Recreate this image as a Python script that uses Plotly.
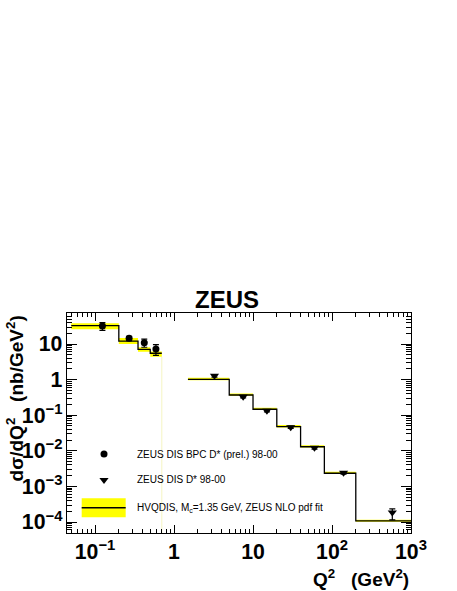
import plotly.graph_objects as go
import numpy as np

# HVQDIS prediction, BPC region (bin edges and cross sections in nb/GeV^2)
bpc_edges = [0.05, 0.2, 0.35, 0.5, 0.7]
bpc_theory = [32.7, 12.1, 7.1, 5.5]
bpc_theory_up = [38.1, 14.7, 8.1, 6.2]
bpc_theory_lo = [25.9, 10.0, 6.1, 4.4]

# HVQDIS prediction, DIS region
dis_edges = [1.5, 5, 10, 20, 40, 80, 200, 1000]
dis_theory = [1.02, 0.37, 0.147, 0.048, 0.013, 0.00234, 1.07e-4]
dis_theory_up = [1.13, 0.41, 0.162, 0.053, 0.0143, 0.00258, 1.16e-4]
dis_theory_lo = [0.96, 0.35, 0.139, 0.045, 0.0123, 0.00222, 1.01e-4]

# ZEUS DIS BPC D* (prel.) 98-00
bpc_q2 = [0.124, 0.27, 0.42, 0.59]
bpc_xsec = [32.0, 14.4, 10.9, 7.2]
bpc_err = [8.0, 2.0, 2.8, 2.4]

# ZEUS DIS D* 98-00
dis_q2 = [3.25, 7.5, 15, 30, 60, 140, 580]
dis_xsec = [1.28, 0.33, 0.134, 0.046, 0.0121, 0.0024, 1.85e-4]
dis_err_up = [0.10, 0.025, 0.010, 0.0035, 0.0009, 0.0002, 0.5e-4]
dis_err_dn = [0.10, 0.025, 0.010, 0.0035, 0.0009, 0.0002, 0.7e-4]

x_range = [-1.355, 3.0]
y_range = [-4.309, 1.871]

font_main = 'Liberation Sans'


def step_xy(edges, vals):
    """Staircase path through the bin contents."""
    xs, ys = [], []
    for i, v in enumerate(vals):
        xs += [edges[i], edges[i + 1]]
        ys += [v, v]
    return xs, ys


def band_xy(edges, up, lo):
    xu, yu = step_xy(edges, up)
    xl, yl = step_xy(edges, lo)
    return xu + xl[::-1], yu + yl[::-1]


fig = go.Figure()

for edges, up, lo in [(bpc_edges, bpc_theory_up, bpc_theory_lo),
                      (dis_edges, dis_theory_up, dis_theory_lo)]:
    bx, by = band_xy(edges, up, lo)
    fig.add_trace(go.Scatter(
        x=bx, y=by, mode='lines', fill='toself',
        fillcolor='#ffff00', line=dict(width=0),
        hoverinfo='skip', showlegend=False
    ))

# faint edge of the BPC band running down to the axis
fig.add_trace(go.Scatter(
    x=[bpc_edges[-1], bpc_edges[-1]],
    y=[bpc_theory_lo[-1], 10 ** y_range[0]],
    mode='lines', line=dict(color='rgba(230,230,120,0.45)', width=1),
    hoverinfo='skip', showlegend=False
))

for edges, vals in [(bpc_edges, bpc_theory), (dis_edges, dis_theory)]:
    sx, sy = step_xy(edges, vals)
    fig.add_trace(go.Scatter(
        x=sx, y=sy, mode='lines',
        line=dict(color='black', width=1.3),
        showlegend=False
    ))

fig.add_trace(go.Scatter(
    x=bpc_q2, y=bpc_xsec, mode='markers',
    marker=dict(symbol='circle', size=7, color='black'),
    error_y=dict(type='data', array=bpc_err, color='black',
                 thickness=1.2, width=3),
    showlegend=False
))

fig.add_trace(go.Scatter(
    x=dis_q2, y=dis_xsec, mode='markers',
    marker=dict(symbol='triangle-down', size=8, color='black'),
    error_y=dict(type='data', array=dis_err_up, arrayminus=dis_err_dn,
                 color='black', thickness=1.2, width=3),
    showlegend=False
))

# hand-made legend on an overlay axis running 0..1
fig.add_trace(go.Scatter(
    x=[0.1076], y=[0.359], mode='markers',
    marker=dict(symbol='circle', size=7, color='black'),
    xaxis='x2', yaxis='y2', showlegend=False, hoverinfo='skip'
))
fig.add_trace(go.Scatter(
    x=[0.1076], y=[0.241], mode='markers',
    marker=dict(symbol='triangle-down', size=8, color='black'),
    xaxis='x2', yaxis='y2', showlegend=False, hoverinfo='skip'
))

fig.add_shape(type='rect', xref='paper', yref='paper',
              x0=0.0427, x1=0.1706, y0=0.0718, y1=0.158,
              fillcolor='#ffff00', line=dict(width=0), layer='above')
fig.add_shape(type='line', xref='paper', yref='paper',
              x0=0.0427, x1=0.1706, y0=0.115, y1=0.115,
              line=dict(color='black', width=1.5), layer='above')

legend_texts = [
    ('ZEUS DIS BPC D* (prel.) 98-00', 0.359),
    ('ZEUS DIS D* 98-00', 0.241),
    ('HVQDIS, M<sub>c</sub>=1.35 GeV, ZEUS NLO pdf fit', 0.115),
]
for txt, yy in legend_texts:
    fig.add_annotation(text=txt, x=0.198, y=yy, xref='paper', yref='paper',
                       xanchor='left', yanchor='middle', showarrow=False,
                       font=dict(family=font_main, size=10, color='black'))

fig.add_annotation(text='ZEUS', x=0.4637, y=0.99, xref='paper', yref='paper',
                   xanchor='center', yanchor='bottom', showarrow=False,
                   font=dict(family=font_main, size=24, color='black',
                             weight='bold'))

fig.add_annotation(text='dσ/dQ<sup>2</sup>\u00a0\u00a0\u00a0(nb/GeV<sup>2</sup>)',
                   x=-0.15, y=1.0, xref='paper', yref='paper',
                   xanchor='center', yanchor='top', textangle=-90,
                   showarrow=False,
                   font=dict(family=font_main, size=19, color='black',
                             weight='bold'))

fig.add_annotation(text='Q<sup>2</sup>\u00a0\u00a0\u00a0(GeV<sup>2</sup>)',
                   x=1.0, y=-0.2045, xref='paper', yref='paper',
                   xanchor='right', yanchor='middle', showarrow=False,
                   font=dict(family=font_main, size=19, color='black',
                             weight='bold'))

axis_common = dict(
    type='log', showgrid=False, zeroline=False,
    showline=True, linecolor='black', linewidth=1.3, mirror='ticks',
    ticks='inside', tickcolor='black', tickwidth=1,
    dtick=1, exponentformat='power',
    tickfont=dict(family=font_main, size=17, color='black', weight='bold'),
)

fig.update_layout(
    width=457, height=591,
    margin=dict(l=67, r=46, t=313, b=58),
    paper_bgcolor='white', plot_bgcolor='white',
    showlegend=False,
    xaxis=dict(axis_common, range=x_range, ticklen=8,
               minor=dict(ticks='inside', ticklen=4, dtick='D1',
                          tickcolor='black', tickwidth=1)),
    yaxis=dict(axis_common, range=y_range, ticklen=10,
               minor=dict(ticks='inside', ticklen=5, dtick='D1',
                          tickcolor='black', tickwidth=1)),
    xaxis2=dict(overlaying='x', range=[0, 1], visible=False),
    yaxis2=dict(overlaying='y', range=[0, 1], visible=False),
)

# drop the browser's default body margin so the figure sits at the page corner
fig.write_html("out.html",
               config={'displayModeBar': False},
               post_script="document.body.style.margin='0px';")
